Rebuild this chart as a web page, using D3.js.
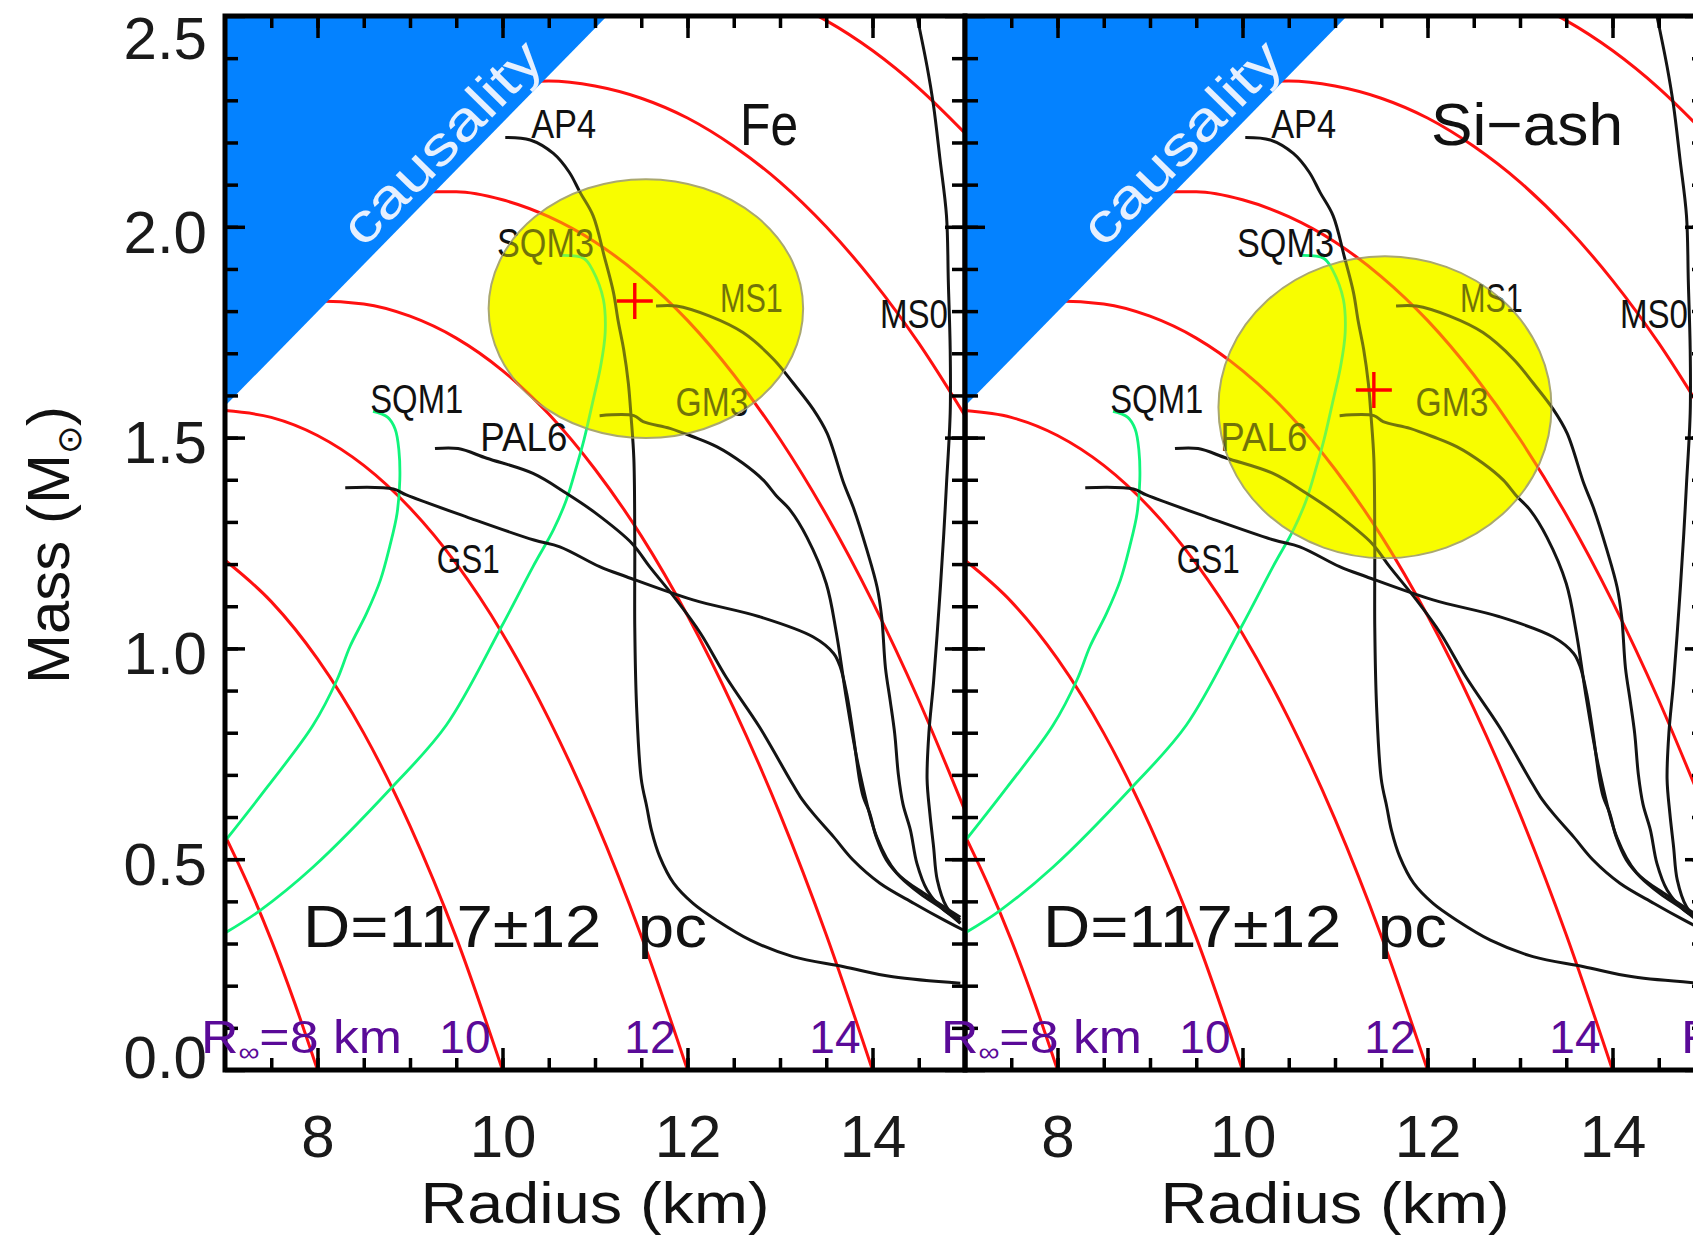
<!DOCTYPE html>
<html>
<head>
<meta charset="utf-8">
<script src="https://cdn.jsdelivr.net/npm/d3@7"></script>
<style>
  html, body { margin: 0; padding: 0; background: #fff; }
  svg { display: block; font-family: 'Liberation Sans', Arial, sans-serif; }
</style>
</head>
<body>
<div id="chart"></div>
<script>
// ---- values: radius R (km), mass M (solar masses) ----

// constant R_inf curves (red)
const rInf8  = [[7,0.556],[7.25,0.439],[7.5,0.308],[7.75,0.161],[8,0]];
const rInf10 = [[7,1.209],[7.5,1.111],[8,0.975],[8.5,0.799],[9,0.579],[9.5,0.314],[10,0]];
const rInf12 = [[7,1.564],[7.5,1.548],[8,1.505],[8.5,1.434],[9,1.333],[9.5,1.201],[10,1.035],[10.5,0.833],[11,0.595],[11.5,0.318],[12,0]];
const rInf14 = [[7.5,1.811],[8,1.824],[8.5,1.817],[9,1.788],[9.5,1.736],[10,1.659],[10.5,1.556],[11,1.425],[11.5,1.267],[12,1.078],[12.5,0.858],[13,0.607],[13.5,0.321],[14,0]];
const rInf16 = [[8.5,2.066],[9,2.083],[9.5,2.083],[10,2.064],[10.5,2.024],[11,1.964],[11.5,1.882],[12,1.778],[12.5,1.649],[13,1.496],[13.5,1.317],[14,1.111],[14.5,0.877],[15,0.615]];
const rInf18 = [[9.5,2.321],[10,2.341],[10.5,2.346],[11,2.334],[11.5,2.305],[12,2.258],[12.5,2.191],[13,2.106],[13.5,2.0],[14,1.873],[14.5,1.724],[15,1.552]];
const rInf20 = [[12.5,2.579],[13,2.542],[13.5,2.489],[14,2.418],[14.5,2.329],[15,2.222]];
const rInfCurves = [rInf8, rInf10, rInf12, rInf14, rInf16, rInf18, rInf20];
const rInfLabels = ['10', '12', '14'];

// strange quark matter (green)
const sqm1 = [[7,0.543],[7.46,0.672],[7.95,0.817],[8.21,0.925],[8.35,1.004],[8.53,1.083],[8.68,1.162],[8.78,1.241],[8.86,1.32],[8.89,1.4],[8.88,1.47],[8.84,1.52],[8.76,1.548],[8.6,1.562]];
const sqm3 = [[7,0.325],[7.37,0.377],[7.95,0.481],[8.81,0.672],[9.39,0.817],[9.99,1.052],[10.33,1.194],[10.55,1.281],[10.69,1.352],[10.8,1.431],[10.88,1.494],[10.98,1.589],[11.06,1.668],[11.11,1.749],[11.09,1.828],[10.98,1.895],[10.88,1.925],[10.62,1.932]];

// nuclear equations of state (black)
const ap4 = [[10.03,2.212],[10.3,2.206],[10.55,2.174],[10.72,2.13],[10.84,2.081],[10.98,2.026],[11.1,1.93],[11.2,1.844],[11.25,1.777],[11.31,1.709],[11.36,1.63],[11.39,1.55],[11.42,1.45],[11.43,1.25],[11.43,1.05],[11.45,0.86],[11.5,0.69],[11.56,0.624],[11.61,0.569],[11.7,0.506],[11.85,0.443],[12.06,0.395],[12.31,0.356],[12.68,0.308],[13.14,0.269],[13.69,0.245],[14.22,0.221],[14.95,0.206]];
const ms1 = [[11.66,1.812],[11.88,1.812],[12.24,1.788],[12.6,1.749],[12.93,1.686],[13.14,1.63],[13.36,1.567],[13.51,1.51],[13.69,1.391],[13.79,1.336],[13.94,1.233],[14.05,1.145],[14.1,1.073],[14.14,0.954],[14.19,0.878],[14.24,0.798],[14.28,0.7],[14.33,0.63],[14.41,0.569],[14.48,0.49],[14.59,0.427],[14.77,0.38],[14.95,0.356]];
const ms0 = [[14.48,2.5],[14.59,2.38],[14.66,2.287],[14.73,2.16],[14.8,2.026],[14.82,1.868],[14.84,1.709],[14.84,1.559],[14.8,1.39],[14.77,1.27],[14.72,1.1],[14.66,0.92],[14.61,0.8],[14.59,0.69],[14.62,0.609],[14.66,0.53],[14.7,0.451],[14.8,0.387],[14.95,0.349]];
const gm3 = [[11.05,1.552],[11.42,1.552],[11.52,1.538],[11.81,1.522],[12.06,1.502],[12.32,1.478],[12.6,1.439],[12.82,1.399],[12.96,1.362],[13.11,1.328],[13.29,1.264],[13.5,1.154],[13.61,1.036],[13.72,0.878],[13.85,0.719],[14.05,0.55],[14.26,0.468],[14.59,0.414],[14.95,0.362]];
const pal6 = [[9.27,1.474],[9.52,1.474],[9.83,1.451],[10.33,1.415],[10.69,1.368],[11.0,1.322],[11.4,1.249],[11.59,1.194],[11.88,1.115],[12.14,1.036],[12.42,0.931],[12.78,0.813],[13.11,0.688],[13.22,0.648],[13.36,0.608],[13.58,0.553],[13.79,0.498],[14.08,0.443],[14.45,0.395],[14.77,0.356],[14.98,0.332]];
const gs1 = [[8.3,1.381],[8.82,1.378],[8.96,1.364],[9.61,1.312],[10.34,1.257],[10.62,1.241],[11.05,1.194],[11.34,1.17],[12.06,1.115],[12.78,1.075],[13.36,1.027],[13.58,0.988],[13.65,0.957],[13.72,0.894],[13.79,0.798],[13.86,0.688],[13.9,0.648],[13.97,0.609],[14.04,0.553],[14.15,0.498],[14.3,0.458],[14.51,0.419],[14.77,0.38],[14.95,0.348]];
const eosCurves = [ap4, ms1, ms0, gm3, pal6, gs1];

// curve labels and where they sit
const eosNames = ['AP4', 'SQM3', 'MS1', 'MS0', 'SQM1', 'PAL6', 'GM3', 'GS1'];
const eosLabelR = [10.31, 9.94, 12.35, 14.08, 8.57, 9.76, 11.87, 9.29];
const eosLabelM = [2.211, 1.928, 1.798, 1.76, 1.558, 1.468, 1.551, 1.179];

// causality limit
const causality = [[7, 2.5], [7, 1.575], [11.13, 2.5]];

// the two atmosphere fits
const panelNames = ['Fe', 'Si\u2212ash'];
const fitR = [11.55, 11.54];
const fitM = [1.806, 1.572];
const fitErrR = [1.70, 1.80];
const fitErrM = [0.307, 0.358];
const bestR = [11.43, 11.42];
const bestM = [1.824, 1.613];
const distanceText = 'D=117\u00b112  pc';

// axes
const xMajor = [8, 10, 12, 14];
const yMajor = [0, 0.5, 1, 1.5, 2, 2.5];

// ---- layout ----
const W = 1693, H = 1237;
const plotTop = 16, plotBottom = 1070, panelLeft = 225, panelWidth = 740;
const labelWidths = { AP4: 65, SQM3: 97, MS1: 63, MS0: 68, SQM1: 93, PAL6: 87, GM3: 73, GS1: 63 };

const svg = d3.select('#chart').append('svg').attr('width', W).attr('height', H);
const defs = svg.append('defs');

const y = d3.scaleLinear().domain([0, 2.5]).range([plotBottom, plotTop]);

function drawPanel(i) {
  const x0 = panelLeft + i * panelWidth;
  const x = d3.scaleLinear().domain([7, 15]).range([x0, x0 + panelWidth]);
  const g = svg.append('g');

  defs.append('clipPath').attr('id', `plot${i}`).append('rect')
    .attr('x', x0).attr('y', plotTop).attr('width', panelWidth).attr('height', plotBottom - plotTop);
  defs.append('clipPath').attr('id', `fit${i}`).append('ellipse')
    .attr('cx', x(fitR[i])).attr('cy', y(fitM[i]))
    .attr('rx', x(fitR[i] + fitErrR[i]) - x(fitR[i])).attr('ry', y(fitM[i]) - y(fitM[i] + fitErrM[i]));

  const redLine = d3.line().x(d => x(d[0])).y(d => y(d[1])).curve(d3.curveMonotoneX);
  const eosLine = d3.line().x(d => x(d[0])).y(d => y(d[1])).curve(d3.curveCatmullRom.alpha(0.5));

  // --- curves + labels ---
  const lines = g.append('g').attr('id', `lines${i}`).attr('clip-path', `url(#plot${i})`);
  rInfCurves.forEach(c => lines.append('path').attr('d', redLine(c))
    .attr('fill', 'none').attr('stroke', '#ff1010').attr('stroke-width', 3));
  [sqm1, sqm3].forEach(c => lines.append('path').attr('d', eosLine(c))
    .attr('fill', 'none').attr('stroke', '#10f57c').attr('stroke-width', 2.8));
  eosCurves.forEach(c => lines.append('path').attr('d', eosLine(c))
    .attr('fill', 'none').attr('stroke', '#141414').attr('stroke-width', 3));
  eosNames.forEach((n, k) => lines.append('text')
    .attr('x', x(eosLabelR[k])).attr('y', y(eosLabelM[k]))
    .attr('font-size', 40).attr('fill', '#111')
    .attr('textLength', labelWidths[n]).attr('lengthAdjust', 'spacingAndGlyphs')
    .text(n));

  // --- causality region ---
  g.append('path')
    .attr('d', d3.line().x(d => x(d[0])).y(d => y(d[1]))(causality) + 'Z')
    .attr('fill', '#0482ff');
  const ang = Math.atan2(y(causality[2][1]) - y(causality[1][1]), x(causality[2][0]) - x(causality[1][0])) * 180 / Math.PI;
  g.append('text')
    .attr('transform', `translate(${x(9.36)},${y(2.196)}) rotate(${ang})`)
    .attr('text-anchor', 'middle').attr('dy', '0.3em')
    .attr('font-size', 54).attr('fill', '#e6f0ff')
    .attr('textLength', 262).attr('lengthAdjust', 'spacingAndGlyphs')
    .text('causality');

  // --- 1 sigma region of the fit ---
  g.append('ellipse')
    .attr('cx', x(fitR[i])).attr('cy', y(fitM[i]))
    .attr('rx', x(fitR[i] + fitErrR[i]) - x(fitR[i])).attr('ry', y(fitM[i]) - y(fitM[i] + fitErrM[i]))
    .attr('fill', '#f8fd00').attr('stroke', '#aaa870').attr('stroke-width', 2);
  g.append('use').attr('href', `#lines${i}`).attr('clip-path', `url(#fit${i})`).attr('opacity', 0.58);

  // best fit cross
  const cx = x(bestR[i]), cy = y(bestM[i]);
  g.append('path').attr('d', `M${cx - 18},${cy}H${cx + 18}M${cx},${cy - 18}V${cy + 18}`)
    .attr('stroke', '#ff0000').attr('stroke-width', 3.4).attr('fill', 'none');

  // --- panel texts ---
  g.append('text').attr('x', x(i === 0 ? 12.568 : 12.038)).attr('y', y(2.195))
    .attr('font-size', 60).attr('fill', '#111')
    .attr('textLength', i === 0 ? 58 : 192).attr('lengthAdjust', 'spacingAndGlyphs')
    .text(panelNames[i]);
  g.append('text').attr('x', x(7.843)).attr('y', y(0.292))
    .attr('font-size', 60).attr('fill', '#111').attr('xml:space', 'preserve')
    .style('white-space', 'pre')
    .attr('textLength', 404).attr('lengthAdjust', 'spacingAndGlyphs')
    .text(distanceText);

  // --- frame and ticks ---
  const tickStyle = sel => {
    sel.select('.domain').remove();
    sel.selectAll('line').attr('stroke', '#000').attr('stroke-width', 3.5);
  };
  const minorX = d3.range(7.5, 15, 0.5), minorY = d3.range(0.1, 2.5, 0.1);
  [[d3.axisBottom, plotBottom], [d3.axisTop, plotTop]].forEach(([ax, pos]) => {
    g.append('g').attr('transform', `translate(0,${pos})`)
      .call(ax(x).tickValues(minorX).tickSize(-12).tickFormat('')).call(tickStyle);
    g.append('g').attr('transform', `translate(0,${pos})`)
      .call(ax(x).tickValues(xMajor).tickSize(-22).tickFormat('')).call(tickStyle);
  });
  [[d3.axisLeft, x0], [d3.axisRight, x0 + panelWidth]].forEach(([ax, pos]) => {
    g.append('g').attr('transform', `translate(${pos},0)`)
      .call(ax(y).tickValues(minorY).tickSize(-13).tickFormat('')).call(tickStyle);
    g.append('g').attr('transform', `translate(${pos},0)`)
      .call(ax(y).tickValues(yMajor).tickSize(-20).tickFormat('')).call(tickStyle);
  });
  g.append('rect').attr('x', x0).attr('y', plotTop).attr('width', panelWidth).attr('height', plotBottom - plotTop)
    .attr('fill', 'none').attr('stroke', '#000').attr('stroke-width', 5);

  // x tick labels
  g.append('g').attr('transform', `translate(0,${plotBottom})`)
    .call(d3.axisBottom(x).tickValues(xMajor).tickSize(0).tickPadding(44).tickFormat(d3.format('d')))
    .call(sel => sel.select('.domain').remove())
    .attr('font-size', 60).attr('font-family', null)
    .selectAll('text').attr('fill', '#1a1a1a');

  g.append('text').attr('x', x(11)).attr('y', 1223)
    .attr('text-anchor', 'middle').attr('font-size', 58).attr('fill', '#111')
    .attr('textLength', 349).attr('lengthAdjust', 'spacingAndGlyphs')
    .text('Radius (km)');

  if (i === 0) {
    g.append('g').attr('transform', `translate(${x0},0)`)
      .call(d3.axisLeft(y).tickValues(yMajor).tickSize(0).tickPadding(18).tickFormat(d3.format('.1f')))
      .call(sel => sel.select('.domain').remove())
      .attr('font-size', 60).attr('font-family', null)
      .selectAll('text').attr('fill', '#1a1a1a')
      .attr('dy', d => d === 2.5 ? '0.7em' : d === 0 ? '0.12em' : '0.42em');
  }
}

// R_inf labels along the bottom of each panel (third panel is cut off at the edge)
function drawRinfLabels(i) {
  const x0 = panelLeft + i * panelWidth;
  const x = d3.scaleLinear().domain([7, 15]).range([x0, x0 + panelWidth]);
  const g = svg.append('g').attr('fill', '#5a0a98').attr('font-size', 46);
  const t = g.append('text').attr('x', x0 - 24).attr('y', y(0.04))
    .attr('textLength', 201).attr('lengthAdjust', 'spacingAndGlyphs');
  t.append('tspan').text('R');
  t.append('tspan').attr('font-size', 26).attr('dy', 8).text('\u221e');
  t.append('tspan').attr('dy', -8).text('=8 km');
  rInfLabels.forEach(l => g.append('text')
    .attr('x', x(+l - 0.13)).attr('y', y(0.04)).attr('text-anchor', 'end').text(l));
}

drawPanel(0);
drawPanel(1);
[0, 1, 2].forEach(drawRinfLabels);

// y axis title
const yt = svg.append('text').attr('transform', 'translate(69,545) rotate(-90)')
  .attr('text-anchor', 'middle').attr('font-size', 60).attr('fill', '#111');
yt.append('tspan').text('Mass (M');
yt.append('tspan').attr('font-size', 34).attr('dy', 12).text('\u2299');
yt.append('tspan').attr('dy', -12).text(')');
</script>
</body>
</html>
